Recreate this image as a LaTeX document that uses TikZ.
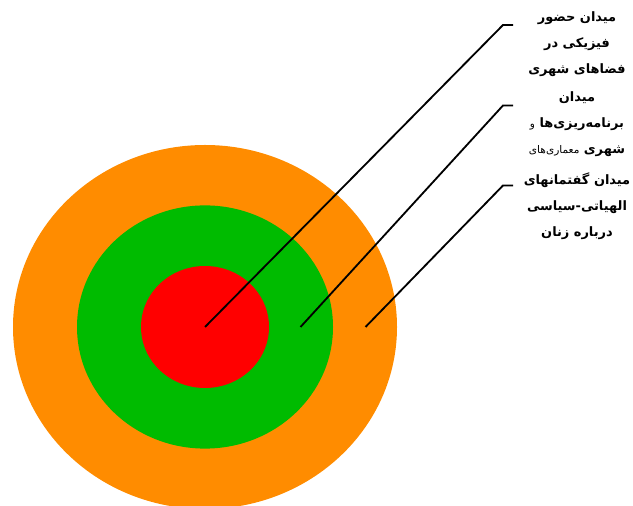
\documentclass[tikz,border=0pt]{standalone}
\usepackage{fontspec}
\usepackage{tikz}
\usetikzlibrary{positioning}
\newfontfamily\arabicfont[Script=Arabic]{DejaVu Sans}
\TeXXeTstate=1
\definecolor{ringorange}{HTML}{FF8C00}
\definecolor{ringgreen}{HTML}{00BB00}
\definecolor{ringred}{HTML}{FF0000}

\begin{document}
\begin{tikzpicture}[
    outer/.style={fill=ringorange, draw=none},
    middle/.style={fill=ringgreen, draw=none},
    inner/.style={fill=ringred, draw=none},
    leader/.style={black, line width=1.3pt},
    label/.style={font=\arabicfont\bfseries\fontsize{9.2}{18.5}\selectfont, align=center}
]
    \useasboundingbox (0,0) rectangle (15.825,12.65);

    % Dayereha
    \fill[outer]  (5.125,4.475) ellipse [x radius=4.8, y radius=4.55];
    \fill[middle] (5.125,4.475) ellipse [x radius=3.2, y radius=3.04];
    \fill[inner]  (5.125,4.475) ellipse [x radius=1.6, y radius=1.525];

    % Noghat
    \coordinate (p1) at (5.125,4.475);
    \coordinate (p2) at (7.5125,4.475);
    \coordinate (p3) at (9.1375,4.475);
    \coordinate (k1) at (12.575,12.025);
    \coordinate (k2) at (12.575,10.0125);
    \coordinate (k3) at (12.575,8.0125);
    \coordinate (e1) at (12.825,12.025);
    \coordinate (e2) at (12.825,10.0125);
    \coordinate (e3) at (12.825,8.0125);

    % Matnha
    \node[label] (t1) at (14.425,11.55) {\beginR میدان حضور\endR\\ \beginR فیزیکی در\endR\\ \beginR فضاهای شهری\endR};
    \node[label] (t2) at (14.425,9.55) {\beginR میدان\endR\\ \beginR برنامه‌ریزی‌ها {\mdseries\fontsize{7.5}{18.5}\selectfont و}\endR\\ \beginR شهری {\mdseries\fontsize{7.5}{18.5}\selectfont معماری‌های}\endR};
    \node[label] (t3) at (14.425,7.5) {\beginR میدان گفتمانهای\endR\\ \beginR الهیاتی-سیاسی\endR\\ \beginR درباره زنان\endR};

    % Khotut
    \draw[leader] (p1) -- (k1) -- (e1);
    \draw[leader] (p2) -- (k2) -- (e2);
    \draw[leader] (p3) -- (k3) -- (e3);

\end{tikzpicture}
\end{document}
